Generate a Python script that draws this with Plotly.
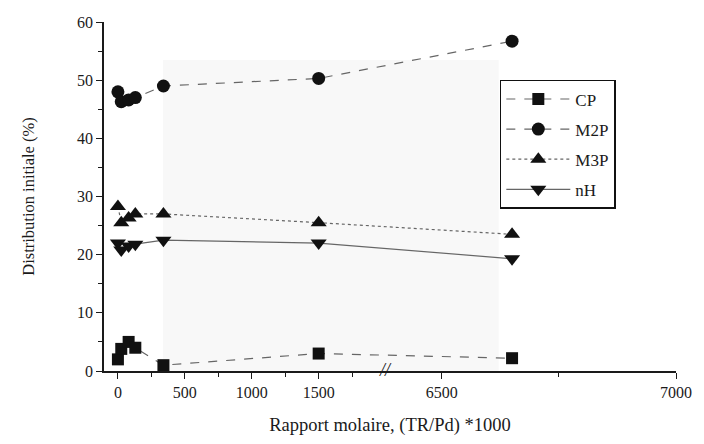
import plotly.graph_objects as go

# ---- data ----
ratio = [0, 25, 80, 130, 340, 1500, 6650]          # (TR/Pd)*1000
CP  = [2.0, 3.8, 5.0, 4.0, 1.0, 3.0, 2.2]
M2P = [48.0, 46.3, 46.6, 47.0, 49.0, 50.3, 56.7]
M3P = [28.3, 25.5, 26.3, 27.0, 27.0, 25.5, 23.5]
nH  = [22.0, 20.8, 21.5, 21.8, 22.5, 22.0, 19.3]

major_ticks = [0, 500, 1000, 1500, 6500, 7000]
major_text = ["0", "500", "1000", "1500", "6500", "7000"]
minor_ticks = [250, 750, 1250, 1750, 6750]

# ---- broken x axis: left part linear, right part stretched ----
BREAK_LEFT = 2000
BREAK_RIGHT = 6380
RIGHT_STRETCH = 3.5


def xmap(v):
    if v <= BREAK_LEFT:
        return v
    return BREAK_LEFT + (v - BREAK_RIGHT) * RIGHT_STRETCH


FONT = "Liberation Serif"
INK = "#1a1a1a"

series = [
    ("CP", CP, "square", 12, "dash"),
    ("M2P", M2P, "circle", 13, "dash"),
    ("M3P", M3P, "triangle-up", 14, "dot"),
    ("nH", nH, "triangle-down", 14, "solid"),
]

fig = go.Figure()
for name, vals, sym, size, dash in series:
    fig.add_trace(go.Scatter(
        x=[xmap(v) for v in ratio], y=vals, name=name, legendgroup=name,
        mode="lines+markers",
        line=dict(color="#666666", width=1.2, dash=dash),
        marker=dict(symbol=sym, size=size, color="#111111"),
    ))

fig.update_layout(
    width=704, height=444,
    margin=dict(l=104, r=26, t=22, b=73),
    paper_bgcolor="white", plot_bgcolor="white",
    font=dict(family=FONT, size=15, color=INK),
    showlegend=True,
    legend=dict(
        x=0.692, y=0.834, xanchor="left", yanchor="top",
        bordercolor="#111111", borderwidth=1.5, bgcolor="white",
        font=dict(family=FONT, size=17, color=INK),
        tracegroupgap=5, itemwidth=64,
    ),
    shapes=[dict(
        type="rect", xref="paper", yref="paper", x0=0.103, x1=0.69, y0=0, y1=0.891,
        fillcolor="#f8f8f8", line=dict(width=0), layer="below",
    )],
)

fig.update_xaxes(
    range=[-104, xmap(7000)],
    tickmode="array", tickvals=[xmap(v) for v in major_ticks], ticktext=major_text,
    ticks="outside", ticklen=6, tickwidth=1.2, tickcolor=INK,
    minor=dict(tickmode="array", tickvals=[xmap(v) for v in minor_ticks],
               ticks="outside", ticklen=4, tickwidth=1, tickcolor=INK),
    showline=True, linecolor=INK, linewidth=1.6,
    showgrid=False, zeroline=False,
    tickfont=dict(family=FONT, size=16, color=INK),
    title=dict(text="Rapport molaire, (TR/Pd) *1000",
               font=dict(family=FONT, size=18.5, color=INK), standoff=18),
)
fig.update_yaxes(
    range=[0, 60], tickmode="linear", tick0=0, dtick=10,
    ticks="outside", ticklen=6, tickwidth=1.2, tickcolor=INK,
    minor=dict(dtick=5, ticks="outside", ticklen=4, tickwidth=1, tickcolor=INK),
    showline=True, linecolor=INK, linewidth=1.6,
    showgrid=False, zeroline=False,
    tickfont=dict(family=FONT, size=16, color=INK),
    title=dict(text="Distribution initiale (%)",
               font=dict(family=FONT, size=16.5, color=INK), standoff=38),
)

# axis break mark
fig.add_annotation(
    x=xmap(BREAK_LEFT), y=0, xref="x", yref="y", text="<i>//</i>",
    showarrow=False, font=dict(family=FONT, size=18, color=INK),
    yshift=1,
)

fig.write_html("out.html")
